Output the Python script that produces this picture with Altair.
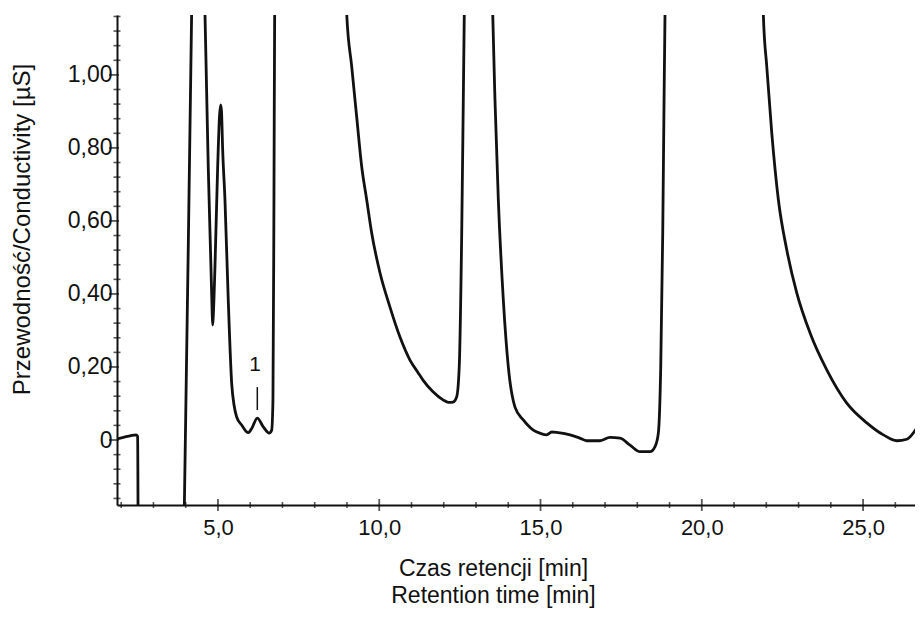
import altair as alt
import pandas as pd

# Chromatogram trace (retention time [min], conductivity [uS]); values beyond the
# visible range are clipped by the plot frame (off-scale peaks).
t_vals = [1.87, 2.10, 2.30, 2.46, 2.51, 2.53, 3.93, 3.955, 4.184, 4.21, 4.56, 4.597,
          4.65, 4.699, 4.783, 4.82, 4.836, 4.855, 4.907, 4.991, 5.05, 5.084, 5.11,
          5.146, 5.217, 5.319, 5.425, 5.50, 5.58, 5.735, 5.94, 6.054, 6.219, 6.405,
          6.59, 6.665, 6.705, 6.736, 6.758, 6.78, 8.95, 8.99, 9.146, 9.30, 9.456,
          9.611, 9.766, 10.023, 10.333, 10.643, 10.953, 11.20, 11.357, 11.667,
          11.977, 12.15, 12.287, 12.40, 12.48, 12.557, 12.606, 12.637, 12.66, 13.49,
          13.518, 13.589, 13.692, 13.847, 14.002, 14.209, 14.467, 14.777, 15.0,
          15.192, 15.35, 15.552, 15.915, 16.2, 16.433, 16.845, 17.155, 17.465,
          17.775, 18.085, 18.395, 18.55, 18.653, 18.727, 18.789, 18.83, 18.86,
          18.88, 21.88, 21.909, 22.014, 22.169, 22.374, 22.634, 22.944, 23.357,
          23.875, 24.495, 25.115, 25.63, 26.045, 26.355, 26.665, 26.86]
v_vals = [0.003, 0.008, 0.012, 0.014, 0.010, -0.30, -0.30, -0.20, 1.17, 1.30, 1.30, 1.17,
          0.95, 0.748, 0.474, 0.35, 0.315, 0.34, 0.474, 0.748, 0.89, 0.918, 0.90,
          0.795, 0.658, 0.384, 0.156, 0.095, 0.063, 0.041, 0.020, 0.033, 0.060, 0.036,
          0.019, 0.027, 0.11, 0.66, 1.17, 1.30, 1.30, 1.17, 1.023, 0.886, 0.749,
          0.658, 0.567, 0.458, 0.364, 0.282, 0.219, 0.185, 0.164, 0.132,
          0.110, 0.103, 0.104, 0.118, 0.20, 0.567, 0.93, 1.17, 1.30, 1.30,
          1.17, 0.93, 0.658, 0.384, 0.20, 0.09, 0.055, 0.027, 0.018,
          0.014, 0.022, 0.020, 0.014, 0.006, -0.002, -0.002, 0.007, 0.005,
          -0.014, -0.032, -0.032, -0.018, 0.019, 0.20, 0.567, 0.93, 1.17,
          1.30, 1.30, 1.164, 1.023, 0.841, 0.658, 0.521, 0.403, 0.293,
          0.192, 0.101, 0.047, 0.014, -0.002, 0.002, 0.033, 0.063]

x_domain = [1.87, 26.61]
y_domain = [-0.178, 1.164]

x_major = [5, 10, 15, 20, 25]
x_minor = [2, 3, 4, 6, 7, 8, 9, 11, 12, 13, 14, 16, 17, 18, 19, 21, 22, 23, 24, 26]
y_major = [0.0, 0.2, 0.4, 0.6, 0.8, 1.0]
y_minor = [-0.16, -0.12, -0.08, -0.04, 0.04, 0.08, 0.12, 0.16, 0.24, 0.28, 0.32, 0.36,
           0.44, 0.48, 0.52, 0.56, 0.64, 0.68, 0.72, 0.76, 0.84, 0.88, 0.92, 0.96,
           1.04, 1.08, 1.12, 1.16]

peak_label = "1"
peak_t = 6.15
peak_label_v = 0.19
peak_line_v = [0.082, 0.145]

x_title = ["Czas retencji [min]", "Retention time [min]"]
y_title = "Przewodność/Conductivity [µS]"

FONT = "Liberation Sans"
INK = "#111111"

trace = pd.DataFrame({"t": t_vals, "v": v_vals})

xs = alt.Scale(domain=x_domain, nice=False, zero=False)
ys = alt.Scale(domain=y_domain, nice=False, zero=False)

x_axis = alt.Axis(
    values=x_major,
    labelExpr="replace(format(datum.value, '.1f'), '.', ',')",
    ticks=False, tickSize=0, grid=False, domainColor=INK, domainWidth=2,
    labelFont=FONT, labelFontSize=22, labelColor=INK, labelPadding=12,
    labelFlush=False,
    title=x_title, titleFont=FONT, titleFontSize=23, titleFontWeight="normal",
    titleColor=INK, titleLineHeight=27, titleX=376, titleY=70,
    titleBaseline="alphabetic", titleAlign="center",
)
y_axis = alt.Axis(
    values=y_major,
    labelExpr="datum.value == 0 ? '0' : replace(format(datum.value, '.2f'), '.', ',')",
    ticks=False, tickSize=0, grid=False, domainColor=INK, domainWidth=2,
    labelFont=FONT, labelFontSize=23, labelColor=INK, labelPadding=5,
    labelFlush=False,
    title=y_title, titleFont=FONT, titleFontSize=24, titleFontWeight="normal",
    titleColor=INK, titleX=-95, titleY=214, titleAngle=270,
    titleBaseline="middle", titleAlign="center",
)

line = alt.Chart(trace).mark_line(color=INK, strokeWidth=2.8, clip=True,
                                   strokeJoin="round", interpolate="monotone").encode(
    x=alt.X("t:Q", scale=xs, axis=x_axis),
    y=alt.Y("v:Q", scale=ys, axis=y_axis),
    order="t:Q",
)

xmin_df = pd.DataFrame({"t": x_minor})
xmaj_df = pd.DataFrame({"t": x_major})
ymin_df = pd.DataFrame({"v": y_minor})
ymaj_df = pd.DataFrame({"v": y_major})

xt_minor = alt.Chart(xmin_df).mark_tick(orient="vertical", size=6, thickness=1.6,
                                        color=INK).encode(
    x=alt.X("t:Q", scale=xs), y=alt.datum(y_domain[0], scale=ys))
xt_major = alt.Chart(xmaj_df).mark_tick(orient="vertical", size=12, thickness=1.8,
                                        color=INK).encode(
    x=alt.X("t:Q", scale=xs), y=alt.datum(y_domain[0], scale=ys))
yt_minor = alt.Chart(ymin_df).mark_tick(orient="horizontal", size=7, thickness=1.6,
                                        color=INK).encode(
    y=alt.Y("v:Q", scale=ys), x=alt.datum(x_domain[0], scale=xs))
yt_major = alt.Chart(ymaj_df).mark_tick(orient="horizontal", size=10, thickness=1.8,
                                        color=INK, xOffset=-3).encode(
    y=alt.Y("v:Q", scale=ys), x=alt.datum(x_domain[0], scale=xs))

ann_df = pd.DataFrame({"t": [peak_t], "v": [peak_label_v], "label": [peak_label]})
ann_text = alt.Chart(ann_df).mark_text(font=FONT, fontSize=21, color=INK,
                                       baseline="alphabetic", align="center").encode(
    x=alt.X("t:Q", scale=xs), y=alt.Y("v:Q", scale=ys), text="label:N")
ann_rule_df = pd.DataFrame({"t": [peak_t + 0.07], "v": [peak_line_v[0]], "v2": [peak_line_v[1]]})
ann_rule = alt.Chart(ann_rule_df).mark_rule(color=INK, strokeWidth=1.5).encode(
    x=alt.X("t:Q", scale=xs), y=alt.Y("v:Q", scale=ys), y2="v2:Q")

chart = alt.layer(line, xt_minor, xt_major, yt_minor, yt_major, ann_rule, ann_text).properties(
    width=798, height=490,
    autosize=alt.AutoSizeParams(type="none"),
    padding={"left": 109, "top": 7, "right": 0, "bottom": 104},
    background="white",
).configure_view(stroke=None)

chart.save("out.html", embed_options={"renderer": "svg", "actions": False})
